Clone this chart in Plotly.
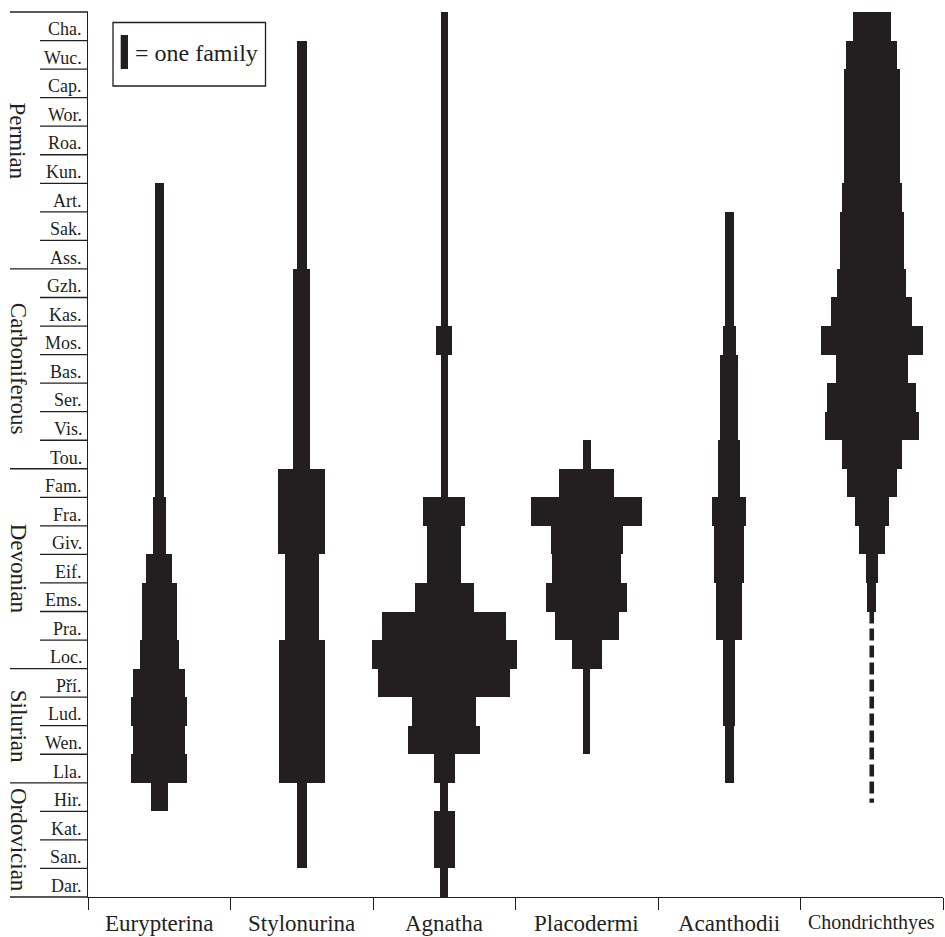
import plotly.graph_objects as go

# ---------------- data ----------------
stages = ["Cha.", "Wuc.", "Cap.", "Wor.", "Roa.", "Kun.", "Art.", "Sak.", "Ass.",
          "Gzh.", "Kas.", "Mos.", "Bas.", "Ser.", "Vis.", "Tou.",
          "Fam.", "Fra.", "Giv.", "Eif.", "Ems.", "Pra.", "Loc.",
          "Pří.", "Lud.", "Wen.", "Lla.",
          "Hir.", "Kat.", "San.", "Dar."]

periods = ["Permian", "Carboniferous", "Devonian", "Silurian", "Ordovician"]
period_first_stage = ["Cha.", "Gzh.", "Fam.", "Pří.", "Hir."]

taxa = ["Eurypterina", "Stylonurina", "Agnatha", "Placodermi", "Acanthodii", "Chondrichthyes"]

# number of families per stage (top = Changhsingian ... bottom = Darriwilian)
eurypterina = [0, 0, 0, 0, 0, 0,
               1.2, 1.2, 1.2, 1.2, 1.2, 1.2, 1.2, 1.2, 1.2, 1.2, 1.2,
               1.8, 1.8, 3.6, 4.8, 4.8, 5.3,
               7.1, 7.7, 7.1, 7.7,
               2.3, 0, 0, 0]
stylonurina = [0, 1.4, 1.4, 1.4, 1.4, 1.4, 1.4, 1.4, 1.4,
               2.3, 2.3, 2.3, 2.3, 2.3, 2.3, 2.3,
               6.4, 6.4, 6.4, 4.6, 4.6, 4.6, 6.3,
               6.3, 6.3, 6.3, 6.3,
               1.4, 1.4, 1.4, 0]
agnatha = [0.9, 0.9, 0.9, 0.9, 0.9, 0.9, 0.9, 0.9, 0.9,
           0.9, 0.9, 2.2, 0.9, 0.9, 0.9, 0.9,
           0.9, 5.8, 4.7, 4.7, 8.1, 16.9, 19.8,
           18.0, 8.8, 9.9, 2.9,
           1.1, 2.9, 2.9, 1.1]
placodermi = [0, 0, 0, 0, 0, 0, 0, 0, 0,
              0, 0, 0, 0, 0, 0, 1.1,
              7.5, 15.2, 9.9, 9.4, 11.1, 8.8, 4.1,
              0.9, 0.9, 0.9, 0,
              0, 0, 0, 0]
acanthodii = [0, 0, 0, 0, 0, 0, 0, 1.2, 1.2,
              1.2, 1.2, 1.8, 2.4, 2.4, 2.4, 3.0,
              3.0, 4.7, 4.1, 4.1, 3.6, 3.6, 1.7,
              1.7, 1.7, 1.2, 1.2,
              0, 0, 0, 0]
chondrichthyes = [5.2, 7.0, 7.6, 7.6, 7.6, 7.6, 8.2, 8.8, 8.8,
                  9.4, 11.1, 14.0, 9.9, 12.2, 12.8, 8.2,
                  6.9, 4.7, 3.5, 1.7, 1.2, 0, 0,
                  0, 0, 0, 0,
                  0, 0, 0, 0]
# inferred (ghost) range of Chondrichthyes, drawn dashed
chondrichthyes_ghost = ["Pra.", "Hir."]

series = [eurypterina, stylonurina, agnatha, placodermi, acanthodii, chondrichthyes]

# ---------------- style ----------------
INK = "#231f20"
FONT = "Liberation Serif, Times New Roman, serif"
FAMILY = 0.0513          # category-axis units per family
GHOST_END_FRACTION = 0.7  # how far into the last ghost stage the dashed line reaches
W, H = 945, 937
ML, MR, MT, MB = 88, 2, 12, 40
PW = W - ML - MR
PH = H - MT - MB
N = len(stages)


def px_x(px):
    return (px - ML) / PW


def px_y(py):
    return (H - MB - py) / PH


fig = go.Figure()

for name, vals in zip(taxa, series):
    xs, bases, widths = [], [], []
    for i, v in enumerate(vals):
        if v > 0:
            xs.append(name)
            bases.append(N - 1 - i)
            widths.append(v * FAMILY)
    fig.add_trace(go.Bar(x=xs, y=[1] * len(xs), base=bases, width=widths,
                         marker=dict(color=INK, line=dict(width=0)),
                         hoverinfo="skip", showlegend=False))

g_top = N - stages.index(chondrichthyes_ghost[0])
g_bot = N - 1 - stages.index(chondrichthyes_ghost[1]) + (1 - GHOST_END_FRACTION)
fig.add_trace(go.Scatter(x=["Chondrichthyes", "Chondrichthyes"], y=[g_top, g_bot],
                         mode="lines", line=dict(color=INK, width=4.6, dash="12px,5px"),
                         hoverinfo="skip", showlegend=False))

shapes = []
annotations = []
period_rows = [stages.index(s) for s in period_first_stage] + [N]
for i in range(N + 1):
    y = 1 - i / N
    x0 = px_x(10) if i in period_rows else px_x(40)
    shapes.append(dict(type="line", xref="paper", yref="paper", x0=x0, x1=0, y0=y, y1=y,
                       line=dict(color=INK, width=1.3)))
for i, s in enumerate(stages):
    annotations.append(dict(text=s, xref="paper", yref="paper", x=px_x(84), y=1 - (i + 0.5) / N,
                            xanchor="right", yanchor="middle", yshift=-3, showarrow=False,
                            font=dict(family=FONT, size=18, color=INK)))
for p, (a, b) in zip(periods, zip(period_rows[:-1], period_rows[1:])):
    annotations.append(dict(text=p, xref="paper", yref="paper", x=px_x(18), y=1 - (a + b) / 2 / N,
                            xanchor="center", yanchor="middle", textangle=90, showarrow=False,
                            font=dict(family=FONT, size=23, color=INK)))
for t in taxa:
    annotations.append(dict(text=t, xref="x", yref="paper", x=t, y=0, yanchor="top", yshift=-12,
                            showarrow=False,
                            font=dict(family=FONT, size=20 if t == "Chondrichthyes" else 23, color=INK)))

# legend box
shapes.append(dict(type="rect", xref="paper", yref="paper", x0=px_x(113), x1=px_x(265.5),
                   y0=px_y(86), y1=px_y(22.5), line=dict(color=INK, width=1.3)))
leg_x = -0.5 + (120.7 - ML) / (PW / len(taxa))
shapes.append(dict(type="rect", xref="x", yref="paper", x0=leg_x, x1=leg_x + 1 * FAMILY,
                   y0=px_y(69), y1=px_y(35), fillcolor=INK, line=dict(width=0)))
annotations.append(dict(text="= one family", xref="paper", yref="paper", x=px_x(133), y=px_y(53),
                        xanchor="left", yanchor="middle", showarrow=False,
                        font=dict(family=FONT, size=24, color=INK)))

fig.update_layout(
    width=W, height=H, margin=dict(l=ML, r=MR, t=MT, b=MB),
    paper_bgcolor="white", plot_bgcolor="white", barmode="overlay", bargap=0,
    showlegend=False, shapes=shapes, annotations=annotations,
    font=dict(family=FONT, color=INK),
    xaxis=dict(type="category", categoryorder="array", categoryarray=taxa, range=[-0.5, 5.5],
               showline=True, linecolor=INK, linewidth=1.3, ticks="outside", tickson="boundaries",
               ticklen=12, tickwidth=1.3, tickcolor=INK, showticklabels=False,
               showgrid=False, zeroline=False, automargin=False, fixedrange=True),
    yaxis=dict(range=[0, N], showline=True, linecolor=INK, linewidth=1.3, ticks="",
               showticklabels=False, showgrid=False, zeroline=False, automargin=False,
               fixedrange=True),
)

fig.write_html("out.html", config={"displayModeBar": False},
               post_script="document.body.style.margin='0';document.body.style.overflow='hidden';")
